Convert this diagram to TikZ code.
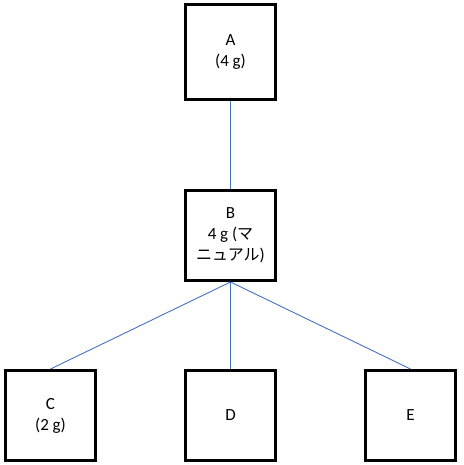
\documentclass[tikz,border=0pt]{standalone}
\usepackage{fontspec}
\setmainfont{Carlito}
\newfontfamily\jpfont{Noto Sans CJK JP}
\definecolor{linkblue}{RGB}{68,114,196}
\begin{document}
\begin{tikzpicture}[x=1pt,y=1pt,
  box/.style={draw=black,line width=3pt,fill=white,minimum width=90pt,minimum height=90pt,inner sep=0pt,align=center,font=\fontsize{17}{21}\selectfont},
  link/.style={draw=linkblue,line width=0.9pt}]
\useasboundingbox (0,0) rectangle (463,465);
\node[box,minimum height=95pt] (A) at (230.5,413) {A\\(4 g)};
\node[box] (B) at (230.5,229.5) {B\\4 g ({\jpfont\fontsize{16}{21}\selectfont マ}\\{\jpfont\fontsize{16}{21}\selectfont ニュアル})};
\node[box] (C) at (50.5,49.5) {C\\(2 g)};
\node[box] (D) at (230.5,49.5) {D};
\node[box] (E) at (410.5,49.5) {E};
\draw[link] (A.south) -- (B.north);
\draw[link] (B.south) -- (C.north);
\draw[link] (B.south) -- (D.north);
\draw[link] (B.south) -- (E.north);
\end{tikzpicture}
\end{document}
